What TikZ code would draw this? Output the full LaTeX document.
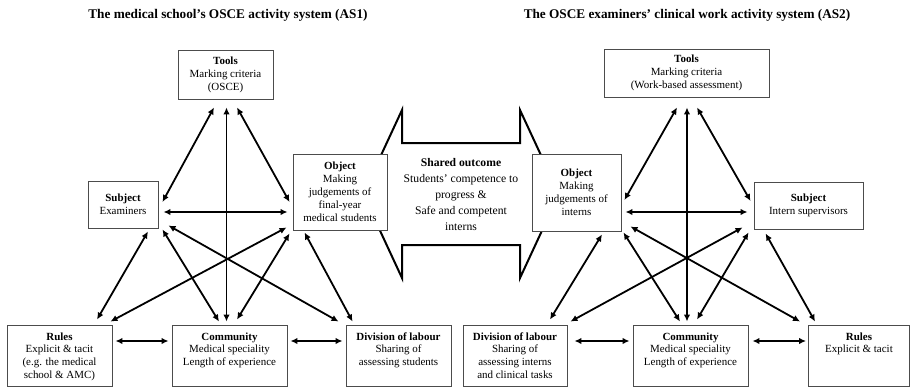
\documentclass[tikz,border=0pt]{standalone}
\usepackage{fontspec}
\setmainfont{Liberation Serif}
\usetikzlibrary{arrows.meta,calc}
\newcommand{\bxc}[3]{\parbox[c][#2][c]{#1}{\centering #3}}
\newcommand{\bxt}[3]{\parbox[c][#2][t]{#1}{\centering\rule{0pt}{15bp}#3}}
\tikzset{
  box/.style={draw=black!70, line width=0.9bp, fill=white, inner sep=0pt, font=\fontsize{11}{13}\selectfont},
  link/.style={line width=1.8bp, {Latex[length=7bp,width=6.5bp]}-{Latex[length=7bp,width=6.5bp]}},
  ttl/.style={font=\fontsize{13.3}{15}\selectfont\bfseries, inner sep=0pt},
  bigarrow/.style={draw=black, line width=2bp, fill=white, line join=miter},
  shared/.style={align=center, inner sep=0pt, font=\fontsize{11.7}{16}\selectfont},
}
\begin{document}
\begin{tikzpicture}[x=1bp,y=-1bp]
\useasboundingbox (0,0) rectangle (911,388);

% titles
\node[ttl] (titleL) at (228,15) {The medical school’s OSCE activity system (AS1)};
\node[ttl] (titleR) at (687,15) {The OSCE examiners’ clinical work activity system (AS2)};

% shared outcome double arrow
\draw[bigarrow] (363,194) -- (402,110) -- (402,143) -- (520,143) -- (520,110) -- (559,194)
  -- (520,278) -- (520,245) -- (402,245) -- (402,278) -- cycle;
\node[shared] (shared) at (461,194.5) {\textbf{Shared outcome}\\Students’ competence to\\progress \&\\Safe and competent\\interns};

% AS1 boxes
\node[box] (toolsL) at (225.5,74.5) {\bxc{95bp}{49bp}{\textbf{Tools}\\Marking criteria\\(OSCE)}};
\node[box] (subjL) at (123,204.5) {\bxc{70bp}{47bp}{\textbf{Subject}\\Examiners}};
\node[box] (objL) at (340,192) {\bxc{94bp}{76bp}{\textbf{Object}\\Making\\judgements of\\final-year\\medical students}};
\node[box] (rulesL) at (59.5,355.5) {\bxt{105bp}{61bp}{\textbf{Rules}\\Explicit \& tacit\\(e.g. the medical\\school \& AMC)}};
\node[box] (commL) at (229.5,355.5) {\bxt{115bp}{61bp}{\textbf{Community}\\Medical speciality\\Length of experience}};
\node[box] (divL) at (398.5,355.5) {\bxt{105bp}{61bp}{\textbf{Division of labour}\\Sharing of\\assessing students}};

% AS2 boxes
\node[box] (toolsR) at (686.5,73) {\bxc{165bp}{48bp}{\textbf{Tools}\\Marking criteria\\(Work-based assessment)}};
\node[box] (objR) at (576.5,192.5) {\bxc{89bp}{77bp}{\textbf{Object}\\Making\\judgements of\\interns}};
\node[box] (subjR) at (808.5,205.5) {\bxc{109bp}{47bp}{\textbf{Subject}\\Intern supervisors}};
\node[box] (divR) at (515,355.5) {\bxt{104bp}{61bp}{\textbf{Division of labour}\\Sharing of\\assessing interns\\and clinical tasks}};
\node[box] (commR) at (690.5,355.5) {\bxt{115bp}{61bp}{\textbf{Community}\\Medical speciality\\Length of experience}};
\node[box] (rulesR) at (859,355.5) {\bxt{101bp}{61bp}{\textbf{Rules}\\Explicit \& tacit}};

% AS1 connectors
\draw[link] ($(toolsL.south)+(-11.5,8)$) -- ($(subjL.east)+(4,-2.5)$);
\draw[link] ($(toolsL.south)+(11.5,8)$) -- ($(objL.west)+(-3,10)$);
\draw[link] ($(toolsL.south)+(1,8)$) -- ($(commL.north)+(-3,-3)$);
\draw[link] ($(subjL.east)+(5,7.5)$) -- ($(objL.west)+(-5,20)$);
\draw[link] ($(subjL.south)+(25,3)$) -- ($(rulesL.north)+(37.5,-5)$);
\draw[link] ($(subjL.south east)+(4,1)$) -- ($(commL.north)+(-10.5,-3)$);
\draw[link] ($(subjL.south east)+(10,-3)$) -- ($(divL.north west)+(-7,-3)$);
\draw[link] ($(objL.south west)+(-6,-3)$) -- ($(rulesL.north east)+(-2,-3)$);
\draw[link] ($(objL.south west)+(-3,3)$) -- ($(commL.north)+(7.5,-5)$);
\draw[link] ($(objL.south west)+(12,2)$) -- ($(divL.north west)+(7,-3)$);
\draw[link] ($(rulesL.east)+(3,-14.5)$) -- ($(commL.west)+(-3,-14.5)$);
\draw[link] ($(commL.east)+(3,-14.5)$) -- ($(divL.west)+(-3,-14.5)$);

% AS2 connectors
\draw[link] ($(toolsR.south)+(-9.5,10)$) -- ($(objR.east)+(3,7.5)$);
\draw[link] ($(toolsR.south)+(10.5,10)$) -- ($(subjR.west)+(-3,-4.5)$);
\draw[link] ($(toolsR.south)+(0.5,10)$) -- ($(commR.north)+(-3.5,-3)$);
\draw[link] ($(objR.east)+(4,19.5)$) -- ($(subjR.west)+(-6,6.5)$);
\draw[link] ($(objR.south)+(25.5,3)$) -- ($(divR.north)+(35,-5)$);
\draw[link] ($(objR.south east)+(2,1)$) -- ($(commR.north)+(-10.5,-3)$);
\draw[link] ($(objR.south east)+(9,-5)$) -- ($(rulesR.north west)+(-8,-3)$);
\draw[link] ($(subjR.south west)+(-11,-2)$) -- ($(divR.north east)+(3,-3)$);
\draw[link] ($(subjR.south west)+(-5,3)$) -- ($(commR.north)+(6.5,-5)$);
\draw[link] ($(subjR.south west)+(12,4)$) -- ($(rulesR.north west)+(7,-3)$);
\draw[link] ($(divR.east)+(7,-14.5)$) -- ($(commR.west)+(-3,-14.5)$);
\draw[link] ($(commR.east)+(4,-14.5)$) -- ($(rulesR.west)+(-2,-14.5)$);
\end{tikzpicture}
\end{document}
